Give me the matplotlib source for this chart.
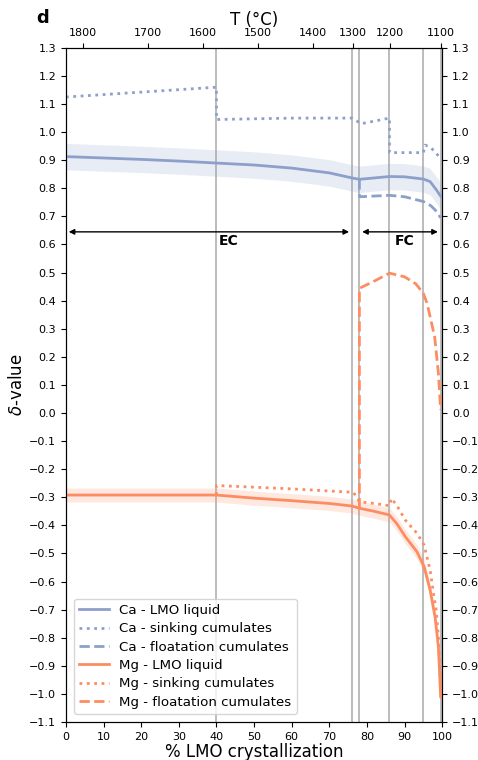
import matplotlib
matplotlib.use("Agg")
import matplotlib.pyplot as plt
import numpy as np

# --- données ---
# Ca - liquide de l'océan magmatique
ca_liq_x = [0, 10, 20, 30, 40, 50, 60, 70, 76, 78, 82, 86, 90, 95, 96.8, 98.5, 99.6]
ca_liq_y = [0.913, 0.908, 0.903, 0.897, 0.890, 0.883, 0.872, 0.855, 0.837, 0.832, 0.837, 0.842, 0.841, 0.833, 0.824, 0.794, 0.772]
ca_band = 0.047

# Ca - cumulats coulants
ca_sink_x = [0, 40, 40, 60, 76, 78.5, 86, 86, 95, 95.5, 97, 99.6]
ca_sink_y = [1.125, 1.160, 1.045, 1.050, 1.050, 1.030, 1.050, 0.927, 0.927, 0.954, 0.945, 0.907]

# Ca - cumulats de flottaison
ca_float_x = [78, 78, 86, 90, 95, 97, 98.5, 99.6]
ca_float_y = [0.832, 0.770, 0.775, 0.770, 0.753, 0.738, 0.718, 0.695]

# Mg - liquide
mg_liq_x = [0, 20, 40, 50, 60, 70, 76, 78, 82, 86, 88, 90.2, 93.3, 95.2, 96.8, 98.1, 99.0, 99.6]
mg_liq_y = [-0.292, -0.292, -0.292, -0.303, -0.312, -0.322, -0.331, -0.339, -0.350, -0.363, -0.395, -0.440, -0.494, -0.547, -0.630, -0.725, -0.832, -1.010]
mg_band = 0.025

# Mg - cumulats coulants
mg_sink_x = [40, 40, 60, 76, 76.5, 78, 82, 86, 86.5, 88, 90.2, 93.3, 95.2, 96.8, 97.7, 98.4, 99.0, 99.6]
mg_sink_y = [-0.292, -0.258, -0.270, -0.282, -0.284, -0.316, -0.322, -0.330, -0.304, -0.330, -0.381, -0.428, -0.470, -0.559, -0.642, -0.701, -0.797, -0.975]

# Mg - cumulats de flottaison
mg_float_x = [78, 78, 82, 86, 90, 93, 95, 96, 97, 98, 99, 99.6]
mg_float_y = [-0.339, 0.444, 0.470, 0.498, 0.485, 0.460, 0.426, 0.390, 0.331, 0.272, 0.142, 0.011]

# lignes verticales (étapes de cristallisation)
steps = [40, 76, 78, 86, 95, 99.6]

# axe des températures : T et % de cristallisation correspondant
temp_labels = [1800, 1700, 1600, 1500, 1400, 1300, 1200, 1100]
temp_at_pct = [4.4, 21.7, 36.4, 51.0, 65.7, 76.3, 86.2, 99.7]

ca_color = '#8da0cb'
mg_color = '#fc8d62'

fig = plt.figure(figsize=(4.78, 7.6), dpi=100)
ax = fig.add_axes([0.138, 0.05, 0.787, 0.887])

for x in steps:
    ax.axvline(x, color='#b0b0b0', lw=1.2, zorder=1)

ax.fill_between(ca_liq_x, np.array(ca_liq_y) - ca_band, np.array(ca_liq_y) + ca_band,
                color=ca_color, alpha=0.2, lw=0, zorder=2)
ax.fill_between(mg_liq_x, np.array(mg_liq_y) - mg_band, np.array(mg_liq_y) + mg_band,
                color=mg_color, alpha=0.2, lw=0, zorder=2)

ax.plot(ca_liq_x, ca_liq_y, color=ca_color, lw=2, label='Ca - LMO liquid', zorder=3)
ax.plot(ca_sink_x, ca_sink_y, color=ca_color, lw=2, ls=':', label='Ca - sinking cumulates', zorder=3)
ax.plot(ca_float_x, ca_float_y, color=ca_color, lw=2, ls='--', label='Ca - floatation cumulates', zorder=3)
ax.plot(mg_liq_x, mg_liq_y, color=mg_color, lw=2, label='Mg - LMO liquid', zorder=3)
ax.plot(mg_sink_x, mg_sink_y, color=mg_color, lw=2, ls=':', label='Mg - sinking cumulates', zorder=3)
ax.plot(mg_float_x, mg_float_y, color=mg_color, lw=2, ls='--', label='Mg - floatation cumulates', zorder=3)

# flèches EC / FC
ax.annotate('', xy=(0, 0.645), xytext=(76, 0.645),
            arrowprops=dict(arrowstyle='<|-|>', color='black', lw=1, mutation_scale=8))
ax.annotate('', xy=(78, 0.645), xytext=(99.6, 0.645),
            arrowprops=dict(arrowstyle='<|-|>', color='black', lw=1, mutation_scale=8))
ax.text(40.6, 0.612, 'EC', fontsize=10, fontweight='bold', ha='left', va='center')
ax.text(87.3, 0.612, 'FC', fontsize=10, fontweight='bold', ha='left', va='center')

ax.set_xlim(0, 100)
ax.set_ylim(-1.1, 1.3)
ax.set_xticks(np.arange(0, 101, 10))
ax.set_yticks(np.round(np.arange(-1.1, 1.31, 0.1), 1))
ax.tick_params(labelsize=8, right=True, labelright=True)
ax.set_xlabel('% LMO crystallization', fontsize=12, labelpad=1)
ax.set_ylabel(r'$\delta$-value', fontsize=12, labelpad=2)

ax.legend(loc='lower left', fontsize=9.6, handlelength=2.2, labelspacing=0.4,
          borderaxespad=0.6)

top = ax.twiny()
top.set_xlim(ax.get_xlim())
top.set_xticks(temp_at_pct)
top.set_xticklabels([str(t) for t in temp_labels])
top.tick_params(labelsize=8)
top.set_xlabel('T (°C)', fontsize=12, labelpad=2)

fig.text(0.075, 0.976, 'd', fontsize=13, fontweight='bold', va='center')

fig.savefig('out.png', dpi=100)
